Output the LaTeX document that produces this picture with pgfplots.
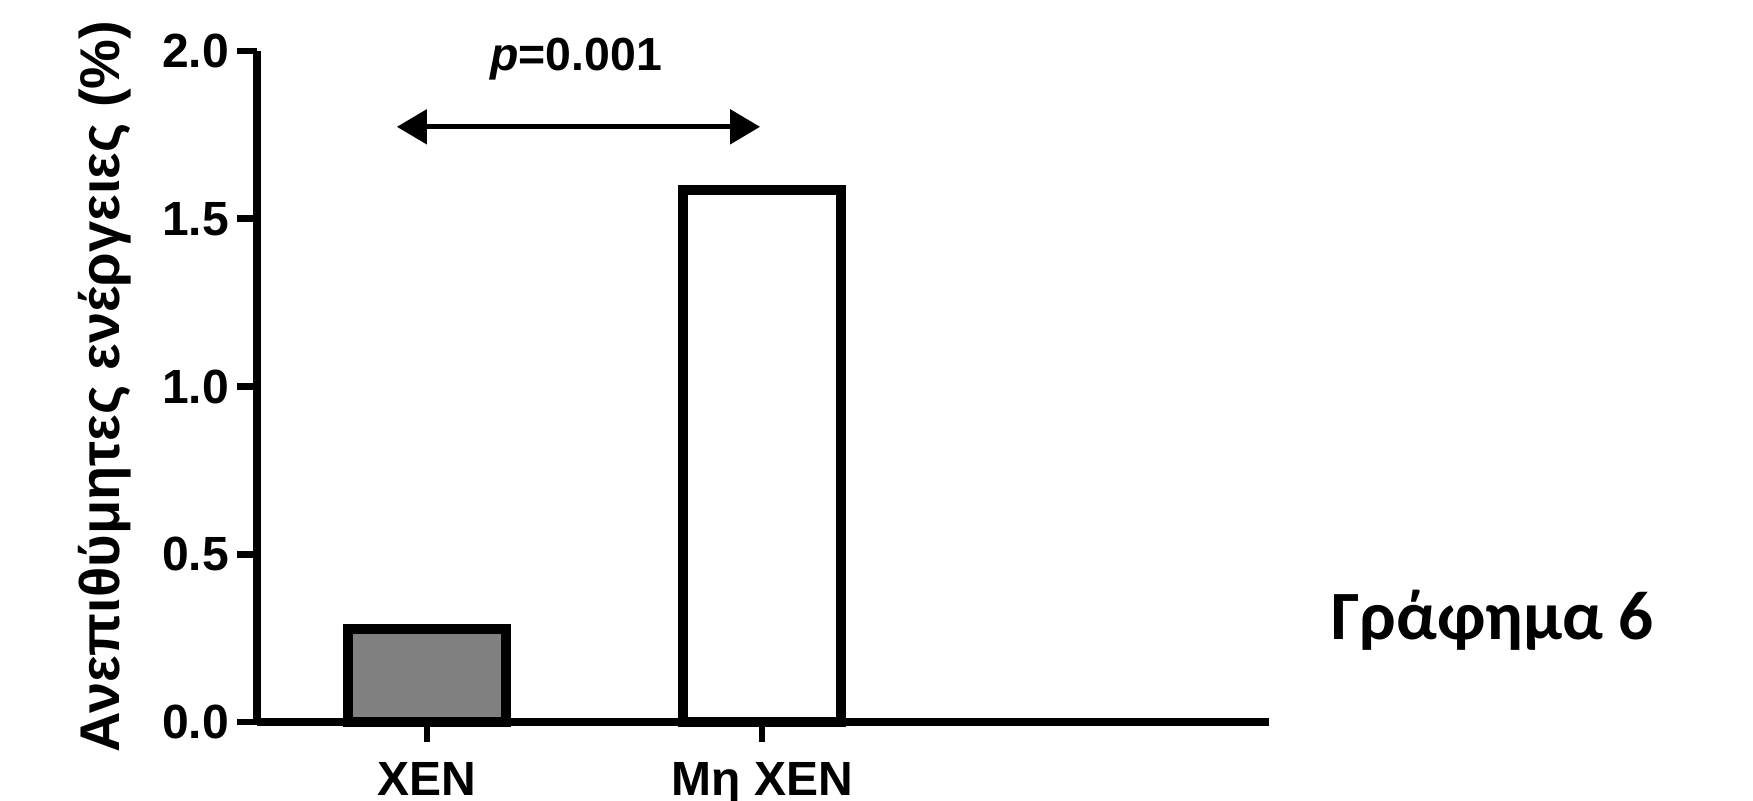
\documentclass[border=0pt]{standalone}
\usepackage{fontspec}
\setmainfont{Liberation Sans}
\newfontfamily\calib{Carlito}
\usepackage{pgfplots}
\pgfplotsset{compat=1.18}
\usetikzlibrary{arrows.meta}
\begin{document}
\begin{tikzpicture}
\useasboundingbox (0,0) rectangle (438.25pt,200.25pt);
\begin{axis}[
  at={(64.25pt,19.75pt)}, anchor=south west,
  scale only axis, width=253pt, height=167.75pt,
  axis lines=left, axis line style={-, line width=2pt},
  xmin=0.4925, xmax=3.513, ymin=0, ymax=2,
  xtick={1,2}, xticklabels={XEN, Mη XEN},
  ytick={0,0.5,1,1.5,2},
  yticklabel style={/pgf/number format/fixed,/pgf/number format/fixed zerofill,/pgf/number format/precision=1, xshift=1.5pt},
  xticklabel style={yshift=-1.5pt},
  /pgf/number format/assume math mode=true,
  tick label style={font=\fontsize{12}{14}\selectfont\bfseries},
  tick align=outside, major tick length=5pt,
  major tick style={line width=1.7pt, black},
  ylabel={Ανεπιθύμητες ενέργειες (\%)},
  every axis y label/.style={at={(rel axis cs:0,0.5)}, xshift=-38pt, rotate=90, anchor=center, font=\fontsize{14}{16}\selectfont\bfseries},
  ybar, bar width=39.5pt, bar shift=0pt,
  clip=false,
]
\addplot[draw=black, line width=2.5pt, fill={rgb,255:red,128;green,128;blue,128}] coordinates {(1,0.278)};
\addplot[draw=black, line width=2.5pt, fill=white] coordinates {(2,1.585)};
\draw[line width=1.3pt, {Triangle[length=7.5pt,width=8.5pt]}-{Triangle[length=7.5pt,width=8.5pt]}] (axis cs:0.91,1.774) -- (axis cs:1.994,1.774);
\node[font=\fontsize{11.6}{13}\selectfont\bfseries] at (axis cs:1.445,1.976) {\textit{p}=0.001};
\node[font=\calib\fontsize{17.3}{19}\selectfont\bfseries, anchor=base] at (axis cs:4.18,0.247) {Γράφημα 6};
\end{axis}
\end{tikzpicture}
\end{document}
